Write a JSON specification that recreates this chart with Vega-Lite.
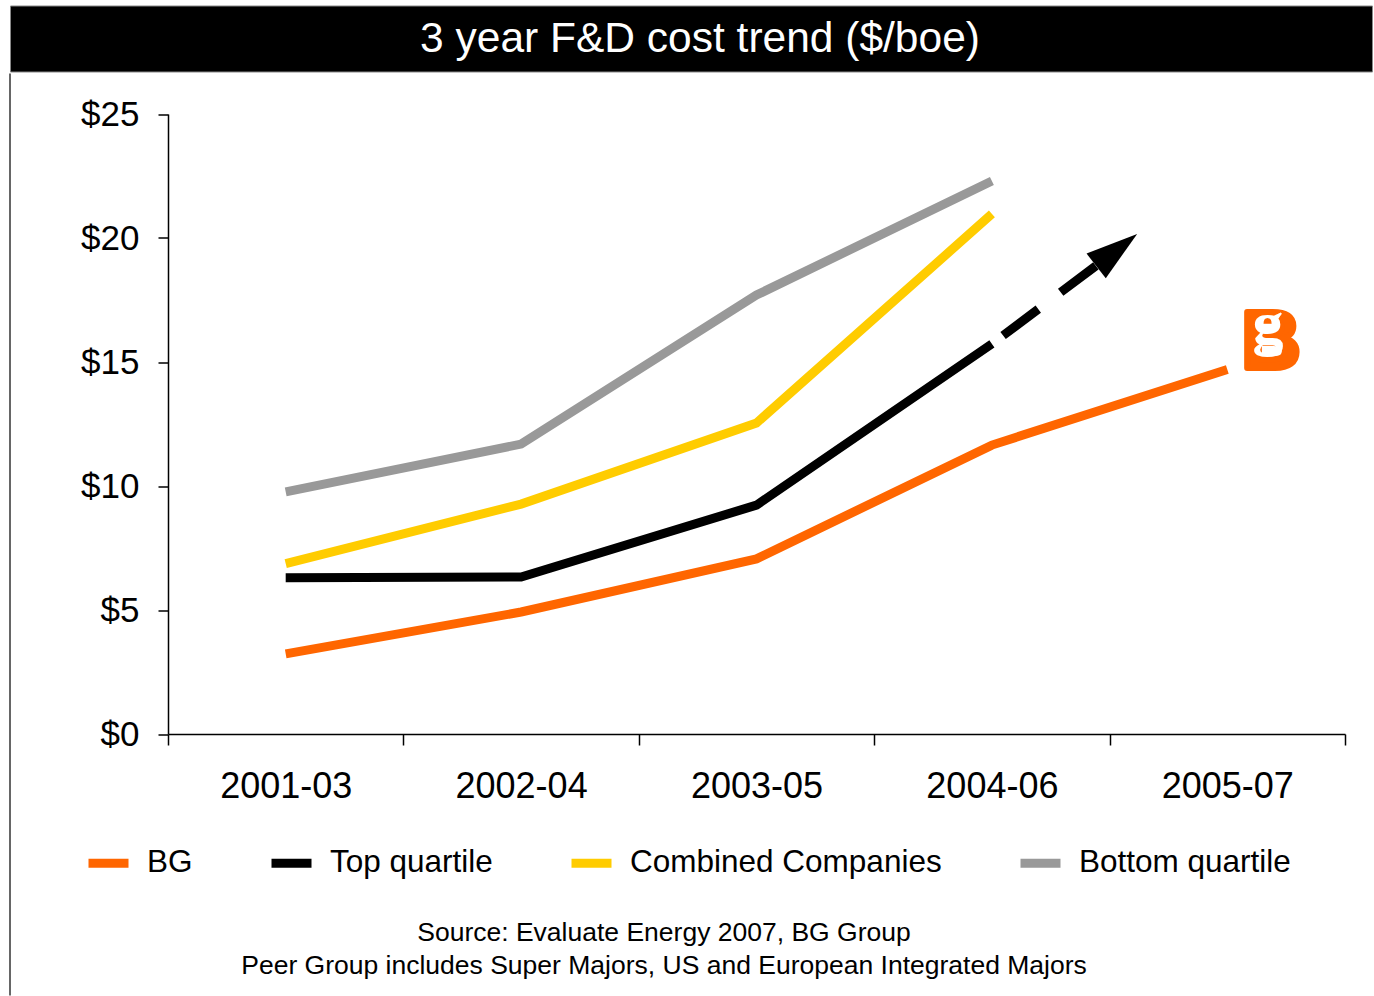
{
  "$schema": "https://vega.github.io/schema/vega-lite/v6.json",
  "background": "white",
  "padding": {"left": 9, "top": 4.5, "right": 0, "bottom": 0},
  "config": {"font": "Liberation Sans", "view": {"stroke": null}},
  "datasets": {
    "lines": [
      {"series": "BG", "period": "2001-03", "value": 3.23},
      {"series": "BG", "period": "2002-04", "value": 4.92},
      {"series": "BG", "period": "2003-05", "value": 7.06},
      {"series": "BG", "period": "2004-06", "value": 11.65},
      {"series": "BG", "period": "2005-07", "value": 14.7},
      {"series": "Top quartile", "period": "2001-03", "value": 6.3},
      {"series": "Top quartile", "period": "2002-04", "value": 6.33},
      {"series": "Top quartile", "period": "2003-05", "value": 9.23},
      {"series": "Top quartile", "period": "2004-06", "value": 15.73},
      {"series": "Combined Companies", "period": "2001-03", "value": 6.87},
      {"series": "Combined Companies", "period": "2002-04", "value": 9.27},
      {"series": "Combined Companies", "period": "2003-05", "value": 12.54},
      {"series": "Combined Companies", "period": "2004-06", "value": 20.97},
      {"series": "Bottom quartile", "period": "2001-03", "value": 9.76},
      {"series": "Bottom quartile", "period": "2002-04", "value": 11.69},
      {"series": "Bottom quartile", "period": "2003-05", "value": 17.7},
      {"series": "Bottom quartile", "period": "2004-06", "value": 22.3}
    ],
    "arrow": [
      {"ax": 3.5, "value": 15.73},
      {"ax": 3.98, "value": 19.15}
    ],
    "head": [
      {"ax": 4.03, "value": 19.52}
    ],
    "logo": [
      {"t": "B", "ax": 4.686, "value": 14.74},
      {"t": "g", "ax": 4.673, "value": 15.73}
    ]
  },
  "spacing": 0,
  "resolve": {"legend": {"color": "independent"}},
  "vconcat": [
    {
      "width": 1362,
      "height": 66,
      "view": {"fill": "black", "stroke": "#888888"},
      "data": {"values": [{"t": "3 year F&D cost trend ($/boe)"}]},
      "mark": {"type": "text", "color": "white", "fontSize": 42.5, "dx": 9, "baseline": "middle"},
      "encoding": {"text": {"field": "t"}}
    },
    {
      "width": 1362,
      "height": 922,
      "view": {"stroke": "#333333", "strokeWidth": 1.5, "strokeDash": [922, 3646], "strokeDashOffset": 922},
      "title": {
        "text": ["Source: Evaluate Energy 2007, BG Group", "Peer Group includes Super Majors, US and European Integrated Majors"],
        "orient": "bottom",
        "anchor": "middle",
        "frame": "group",
        "fontSize": 26.5,
        "fontWeight": "normal",
        "lineHeight": 33,
        "dx": -27,
        "offset": -76,
        "color": "black"
      },
      "layer": [
        {
          "data": {"name": "lines"},
          "mark": {"type": "line", "strokeWidth": 9, "strokeCap": "butt"},
          "encoding": {
            "x": {
              "field": "period",
              "type": "ordinal",
              "scale": {"type": "band", "domain": ["2001-03", "2002-04", "2003-05", "2004-06", "2005-07"], "paddingInner": 0, "paddingOuter": 0, "range": [158, 1335]},
              "axis": {"title": null, "offset": -261.5, "tickBand": "extent", "labelAngle": 0, "labelFontSize": 36, "labelColor": "black", "labelPadding": 24, "tickSize": 11, "tickColor": "black", "tickWidth": 1.5, "domainColor": "black", "domainWidth": 1.5}
            },
            "y": {
              "field": "value",
              "type": "quantitative",
              "scale": {"domain": [0, 25], "nice": false, "range": [660.5, 40.5]},
              "axis": {"title": null, "offset": -158, "values": [0, 5, 10, 15, 20, 25], "labelExpr": "'$' + datum.value", "grid": false, "labelFontSize": 35, "labelColor": "black", "labelPadding": 19, "tickSize": 10, "tickColor": "black", "tickWidth": 1.5, "domainColor": "black", "domainWidth": 1.5}
            },
            "color": {
              "field": "series",
              "type": "nominal",
              "scale": {"domain": ["BG", "Top quartile", "Combined Companies", "Bottom quartile"], "range": ["#FF6600", "#000000", "#FFCC00", "#999999"]},
              "legend": {"title": null, "orient": "none", "legendX": 74, "legendY": 765, "direction": "horizontal", "columns": 4, "symbolType": "stroke", "symbolSize": 1600, "symbolStrokeWidth": 9, "labelFontSize": 31.5, "labelColor": "black", "labelLimit": 0, "labelOffset": 14, "columnPadding": 60, "padding": 0}
            }
          }
        },
        {
          "data": {"name": "arrow"},
          "mark": {"type": "line", "strokeWidth": 9, "color": "black", "strokeDash": [44, 28], "strokeDashOffset": 58, "strokeCap": "butt"},
          "encoding": {
            "x": {"field": "ax", "type": "quantitative", "scale": {"domain": [0, 5], "nice": false, "zero": false, "range": [158, 1335]}, "axis": null},
            "y": {"field": "value", "type": "quantitative", "scale": {"domain": [0, 25], "nice": false, "range": [660.5, 40.5]}, "title": null}
          }
        },
        {
          "data": {"name": "head"},
          "mark": {"type": "point", "shape": "M0,-1L0.6,1L-0.6,1Z", "filled": true, "color": "black", "opacity": 1, "size": 2704, "angle": 52},
          "encoding": {
            "x": {"field": "ax", "type": "quantitative", "scale": {"domain": [0, 5], "nice": false, "zero": false, "range": [158, 1335]}, "axis": null},
            "y": {"field": "value", "type": "quantitative", "scale": {"domain": [0, 25], "nice": false, "range": [660.5, 40.5]}, "title": null}
          }
        },
        {
          "data": {"name": "logo"},
          "transform": [{"filter": "datum.t == 'B'"}],
          "mark": {"type": "text", "font": "Liberation Sans", "fontWeight": "bold", "fontSize": 81, "color": "#FF6600", "stroke": "#FF6600", "strokeWidth": 6, "strokeJoin": "round", "align": "center", "baseline": "alphabetic"},
          "encoding": {
            "x": {"field": "ax", "type": "quantitative", "scale": {"domain": [0, 5], "nice": false, "zero": false, "range": [158, 1335]}, "axis": null},
            "y": {"field": "value", "type": "quantitative", "scale": {"domain": [0, 25], "nice": false, "range": [660.5, 40.5]}, "title": null},
            "text": {"field": "t"}
          }
        },
        {
          "data": {"name": "logo"},
          "transform": [{"filter": "datum.t == 'g'"}],
          "mark": {"type": "text", "font": "Liberation Serif", "fontWeight": "bold", "fontSize": 62, "color": "white", "align": "center", "baseline": "alphabetic"},
          "encoding": {
            "x": {"field": "ax", "type": "quantitative", "scale": {"domain": [0, 5], "nice": false, "zero": false, "range": [158, 1335]}, "axis": null},
            "y": {"field": "value", "type": "quantitative", "scale": {"domain": [0, 25], "nice": false, "range": [660.5, 40.5]}, "title": null},
            "text": {"field": "t"}
          }
        }
      ],
      "resolve": {"scale": {"x": "independent"}}
    }
  ]
}
